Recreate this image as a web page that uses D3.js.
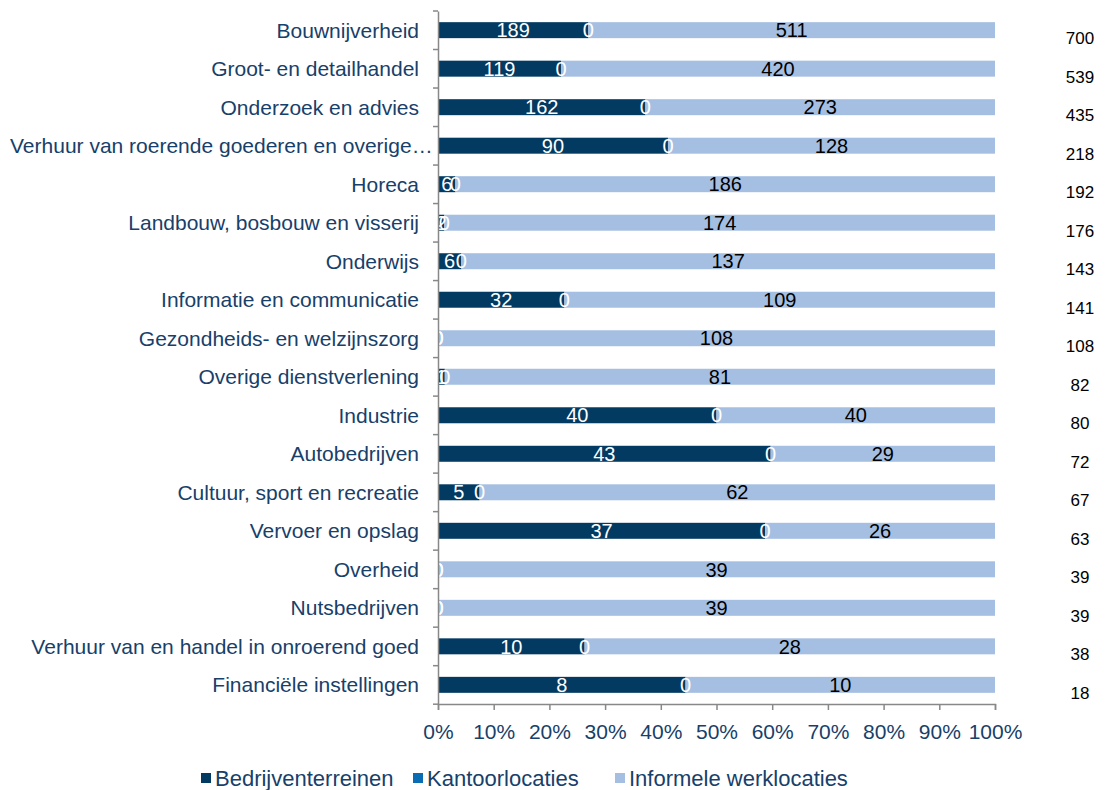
<!DOCTYPE html>
<html>
<head>
<meta charset="utf-8">
<script src="https://cdn.jsdelivr.net/npm/d3@7"></script>
<style>
  body { margin: 0; background: #fff; }
  svg { font-family: "Liberation Sans", Arial, sans-serif; }
</style>
</head>
<body>
<svg width="1105" height="790"></svg>
<script>
const categories = [
  "Bouwnijverheid",
  "Groot- en detailhandel",
  "Onderzoek en advies",
  "Verhuur van roerende goederen en overige…",
  "Horeca",
  "Landbouw, bosbouw en visserij",
  "Onderwijs",
  "Informatie en communicatie",
  "Gezondheids- en welzijnszorg",
  "Overige dienstverlening",
  "Industrie",
  "Autobedrijven",
  "Cultuur, sport en recreatie",
  "Vervoer en opslag",
  "Overheid",
  "Nutsbedrijven",
  "Verhuur van en handel in onroerend goed",
  "Financiële instellingen"
];
const bedrijventerreinen = [189, 119, 162, 90, 6, 2, 6, 32, 0, 1, 40, 43, 5, 37, 0, 0, 10, 8];
const kantoorlocaties = [0, 0, 0, 0, 0, 0, 0, 0, 0, 0, 0, 0, 0, 0, 0, 0, 0, 0];
const informeleWerklocaties = [511, 420, 273, 128, 186, 174, 137, 109, 108, 81, 40, 29, 62, 26, 39, 39, 28, 10];
const seriesNames = ["Bedrijventerreinen", "Kantoorlocaties", "Informele werklocaties"];
const seriesColors = ["#023a62", "#0a6db3", "#a5bfe2"];
const labelColors = ["#fff", "#fff", "#000"];
const xTicks = [0, 0.1, 0.2, 0.3, 0.4, 0.5, 0.6, 0.7, 0.8, 0.9, 1];

const svg = d3.select("svg");
const margin = { top: 11, left: 438, right: 110 };
const plotW = 995 - margin.left;
const plotH = 704 - margin.top;
const textBlue = "#17406a";

const g = svg.append("g").attr("transform", `translate(${margin.left},${margin.top})`);

const x = d3.scaleLinear().domain([0, 1]).range([0, plotW]);
const y = d3.scaleBand().domain(categories).range([0, plotH]).paddingInner(0.585).paddingOuter(0.29);

const rows = categories.map((c, i) => ({
  cat: c,
  vals: [bedrijventerreinen[i], kantoorlocaties[i], informeleWerklocaties[i]],
  total: bedrijventerreinen[i] + kantoorlocaties[i] + informeleWerklocaties[i]
}));

const segs = [];
rows.forEach(r => {
  let acc = 0;
  r.vals.forEach((v, k) => {
    segs.push({ cat: r.cat, k, v, x0: acc / r.total, x1: (acc + v) / r.total });
    acc += v;
  });
});

g.selectAll("rect.seg")
  .data(segs)
  .enter()
  .append("rect")
  .attr("class", "seg")
  .attr("x", d => x(d.x0))
  .attr("y", d => y(d.cat))
  .attr("width", d => x(d.x1) - x(d.x0))
  .attr("height", y.bandwidth())
  .attr("fill", d => seriesColors[d.k]);

g.selectAll("text.val")
  .data(segs)
  .enter()
  .append("text")
  .attr("class", "val")
  .attr("x", d => x((d.x0 + d.x1) / 2))
  .attr("y", d => y(d.cat) + y.bandwidth() / 2)
  .attr("dy", "0.36em")
  .attr("text-anchor", "middle")
  .attr("font-size", 20)
  .attr("fill", d => labelColors[d.k])
  .text(d => d.v);

// y axis
const yAxis = g.append("g").call(d3.axisLeft(y).tickSize(0).tickFormat(""));
yAxis.select(".domain").attr("stroke", "#888").attr("stroke-width", 1.5);
const bandEdges = d3.range(categories.length + 1).map(i => i * y.step());
g.selectAll("line.ytick")
  .data(bandEdges)
  .enter()
  .append("line")
  .attr("x1", -5)
  .attr("x2", 0)
  .attr("y1", d => d)
  .attr("y2", d => d)
  .attr("stroke", "#888")
  .attr("stroke-width", 1.5);

g.selectAll("text.cat")
  .data(categories)
  .enter()
  .append("text")
  .attr("class", "cat")
  .attr("x", -19)
  .attr("y", d => y(d) + y.bandwidth() / 2)
  .attr("dy", "0.36em")
  .attr("text-anchor", "end")
  .attr("font-size", 21)
  .attr("fill", textBlue)
  .text(d => d)
  .each(function () {
    // keep long labels inside the page, like the original does
    const w = this.getComputedTextLength();
    const left = margin.left - 19 - w;
    if (left < 10) d3.select(this).attr("x", -19 + (10 - left));
  });

// x axis
const xAxis = g.append("g")
  .attr("transform", `translate(0,${plotH})`)
  .call(d3.axisBottom(x).tickValues(xTicks).tickFormat(d3.format(".0%")).tickSize(6).tickPadding(14));
xAxis.select(".domain").attr("stroke", "#888").attr("stroke-width", 1.5);
xAxis.selectAll(".tick line").attr("stroke", "#888").attr("stroke-width", 1.5);
xAxis.selectAll(".tick text")
  .attr("font-size", 21)
  .attr("font-family", "Liberation Sans, Arial, sans-serif")
  .attr("fill", textBlue);

// totals
g.selectAll("text.total")
  .data(rows)
  .enter()
  .append("text")
  .attr("class", "total")
  .attr("x", 1080 - margin.left)
  .attr("y", d => y(d.cat) + y.bandwidth() / 2 + 8)
  .attr("dy", "0.36em")
  .attr("text-anchor", "middle")
  .attr("font-size", 17)
  .attr("fill", "#000")
  .text(d => d.total);

// legend
const legendX = [201, 413, 615];
const legend = svg.append("g").attr("transform", "translate(0,778)");
const li = legend.selectAll("g").data(seriesNames).enter().append("g")
  .attr("transform", (d, i) => `translate(${legendX[i]},0)`);
li.append("rect")
  .attr("x", 0)
  .attr("y", -5)
  .attr("width", 10)
  .attr("height", 10)
  .attr("fill", (d, i) => seriesColors[i]);
li.append("text")
  .attr("x", 14)
  .attr("y", 0)
  .attr("dy", "0.36em")
  .attr("font-size", 22)
  .attr("fill", textBlue)
  .text(d => d);
</script>
</body>
</html>
